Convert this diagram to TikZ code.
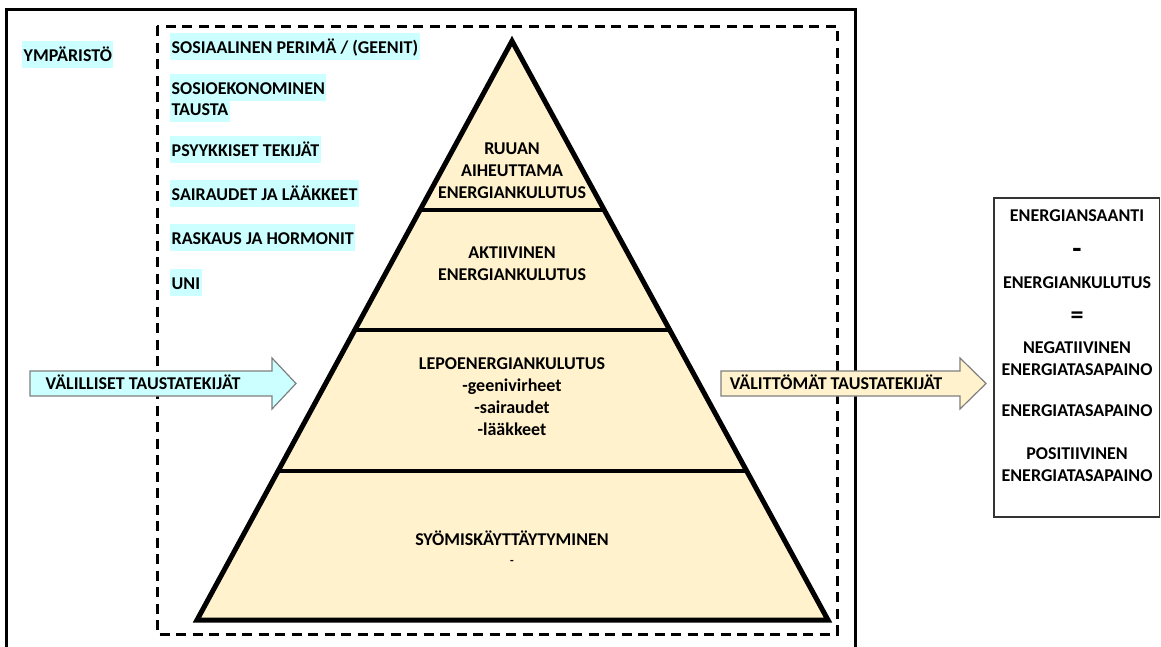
\documentclass[tikz,border=0pt]{standalone}
\usepackage{fontspec}
\setmainfont{Carlito}
\usetikzlibrary{calc}
\definecolor{hl}{HTML}{CCFFFF}
\definecolor{pyr}{HTML}{FFF2CC}
\definecolor{edgegray}{HTML}{7F7F7F}
\begin{document}
\begin{tikzpicture}[x=1pt,y=-1pt,
  every node/.style={font=\bfseries\fontsize{18}{22}\selectfont, inner sep=0pt},
  lbl/.style={anchor=base west, fill=hl, inner xsep=1.5pt, inner ysep=1pt, text height=19pt, text depth=6pt},
  ctr/.style={anchor=base},
  frame/.style={line width=3pt},
  dashbox/.style={line width=3pt, dash pattern=on 10pt off 6.5pt},
  pyrline/.style={line width=5pt, line join=miter},
  divline/.style={line width=4pt},
  arrowcyan/.style={fill=hl, draw=edgegray, line width=1.2pt, line join=miter},
  arrowyellow/.style={fill=pyr, draw=edgegray, line width=1.2pt, line join=miter},
  resbox/.style={draw=black!80, line width=1.2pt}]
\useasboundingbox (0,0) rectangle (1161,646);
\fill[white] (0,0) rectangle (1161,646);

% outer solid frame
\draw[frame] (6,670) -- (6,9) -- (855,9) -- (855,670);
% dashed box
\draw[dashbox] (157,26) rectangle (837,634);

% pyramid
\coordinate (apex) at (512,41);
\coordinate (bl) at (197,620);
\coordinate (br) at (828,620);
\fill[pyr] (apex) -- (bl) -- (br) -- cycle;
\coordinate (d1l) at ($(apex)!0.2919!(bl)$);
\coordinate (d1r) at ($(apex)!0.2919!(br)$);
\coordinate (d2l) at ($(apex)!0.4991!(bl)$);
\coordinate (d2r) at ($(apex)!0.4991!(br)$);
\coordinate (d3l) at ($(apex)!0.7427!(bl)$);
\coordinate (d3r) at ($(apex)!0.7427!(br)$);
\draw[divline] (d1l) -- (d1r);
\draw[divline] (d2l) -- (d2r);
\draw[divline] (d3l) -- (d3r);
\draw[pyrline] (apex) -- (bl) -- (br) -- cycle;

% pyramid texts
\node[ctr] (t1a) at (512,154) {RUUAN};
\node[ctr] (t1b) at (512,176) {AIHEUTTAMA};
\node[ctr] (t1c) at (512,198) {ENERGIANKULUTUS};
\node[ctr] (t2a) at (512,258) {AKTIIVINEN};
\node[ctr] (t2b) at (512,280) {ENERGIANKULUTUS};
\node[ctr] (t3a) at (512,369) {LEPOENERGIANKULUTUS};
\node[ctr] (t3b) at (512,391) {-geenivirheet};
\node[ctr] (t3c) at (512,413) {-sairaudet};
\node[ctr] (t3d) at (512,435) {-lääkkeet};
\node[ctr] (t4a) at (512,545) {SYÖMISKÄYTTÄYTYMINEN};
\node[ctr, font=\bfseries\fontsize{12}{14}\selectfont] (t4b) at (512,564) {-};

% left labels
\node[lbl] (ymp) at (22,61) {YMPÄRISTÖ};
\node[lbl] (l1) at (170,53) {SOSIAALINEN PERIMÄ / (GEENIT)};
\node[lbl] (l2a) at (170,94) {SOSIOEKONOMINEN};
\node[lbl] (l2b) at (170,115) {TAUSTA};
\node[lbl] (l3) at (170,156) {PSYYKKISET TEKIJÄT};
\node[lbl] (l4) at (170,200) {SAIRAUDET JA LÄÄKKEET};
\node[lbl] (l5) at (170,244) {RASKAUS JA HORMONIT};
\node[lbl] (l6) at (170,289) {UNI};

% arrows
\draw[arrowcyan] (30,371) -- (272,371) -- (272,358) -- (296,383.5) -- (272,409) -- (272,396) -- (30,396) -- cycle;
\node[ctr] (leftarrow) at (143,389) {VÄLILLISET TAUSTATEKIJÄT};
\draw[arrowyellow] (721,371) -- (960,371) -- (960,358) -- (986,383.5) -- (960,409) -- (960,396) -- (721,396) -- cycle;
\node[ctr] (rightarrow) at (836,389) {VÄLITTÖMÄT TAUSTATEKIJÄT};

% result box
\draw[resbox] (994,198) rectangle (1159.5,517);
\node[ctr] (r1) at (1077,221) {ENERGIANSAANTI};
\node[ctr, font=\bfseries\fontsize{30}{30}\selectfont] (r2) at (1077,258) {-};
\node[ctr] (r3) at (1077,288) {ENERGIANKULUTUS};
\node[ctr, font=\bfseries\fontsize{26}{26}\selectfont] (r4) at (1077,323) {=};
\node[ctr] (r5) at (1077,353) {NEGATIIVINEN};
\node[ctr] (r6) at (1077,375) {ENERGIATASAPAINO};
\node[ctr] (r7) at (1077,416) {ENERGIATASAPAINO};
\node[ctr] (r8) at (1077,459) {POSITIIVINEN};
\node[ctr] (r9) at (1077,481) {ENERGIATASAPAINO};
\end{tikzpicture}
\end{document}
